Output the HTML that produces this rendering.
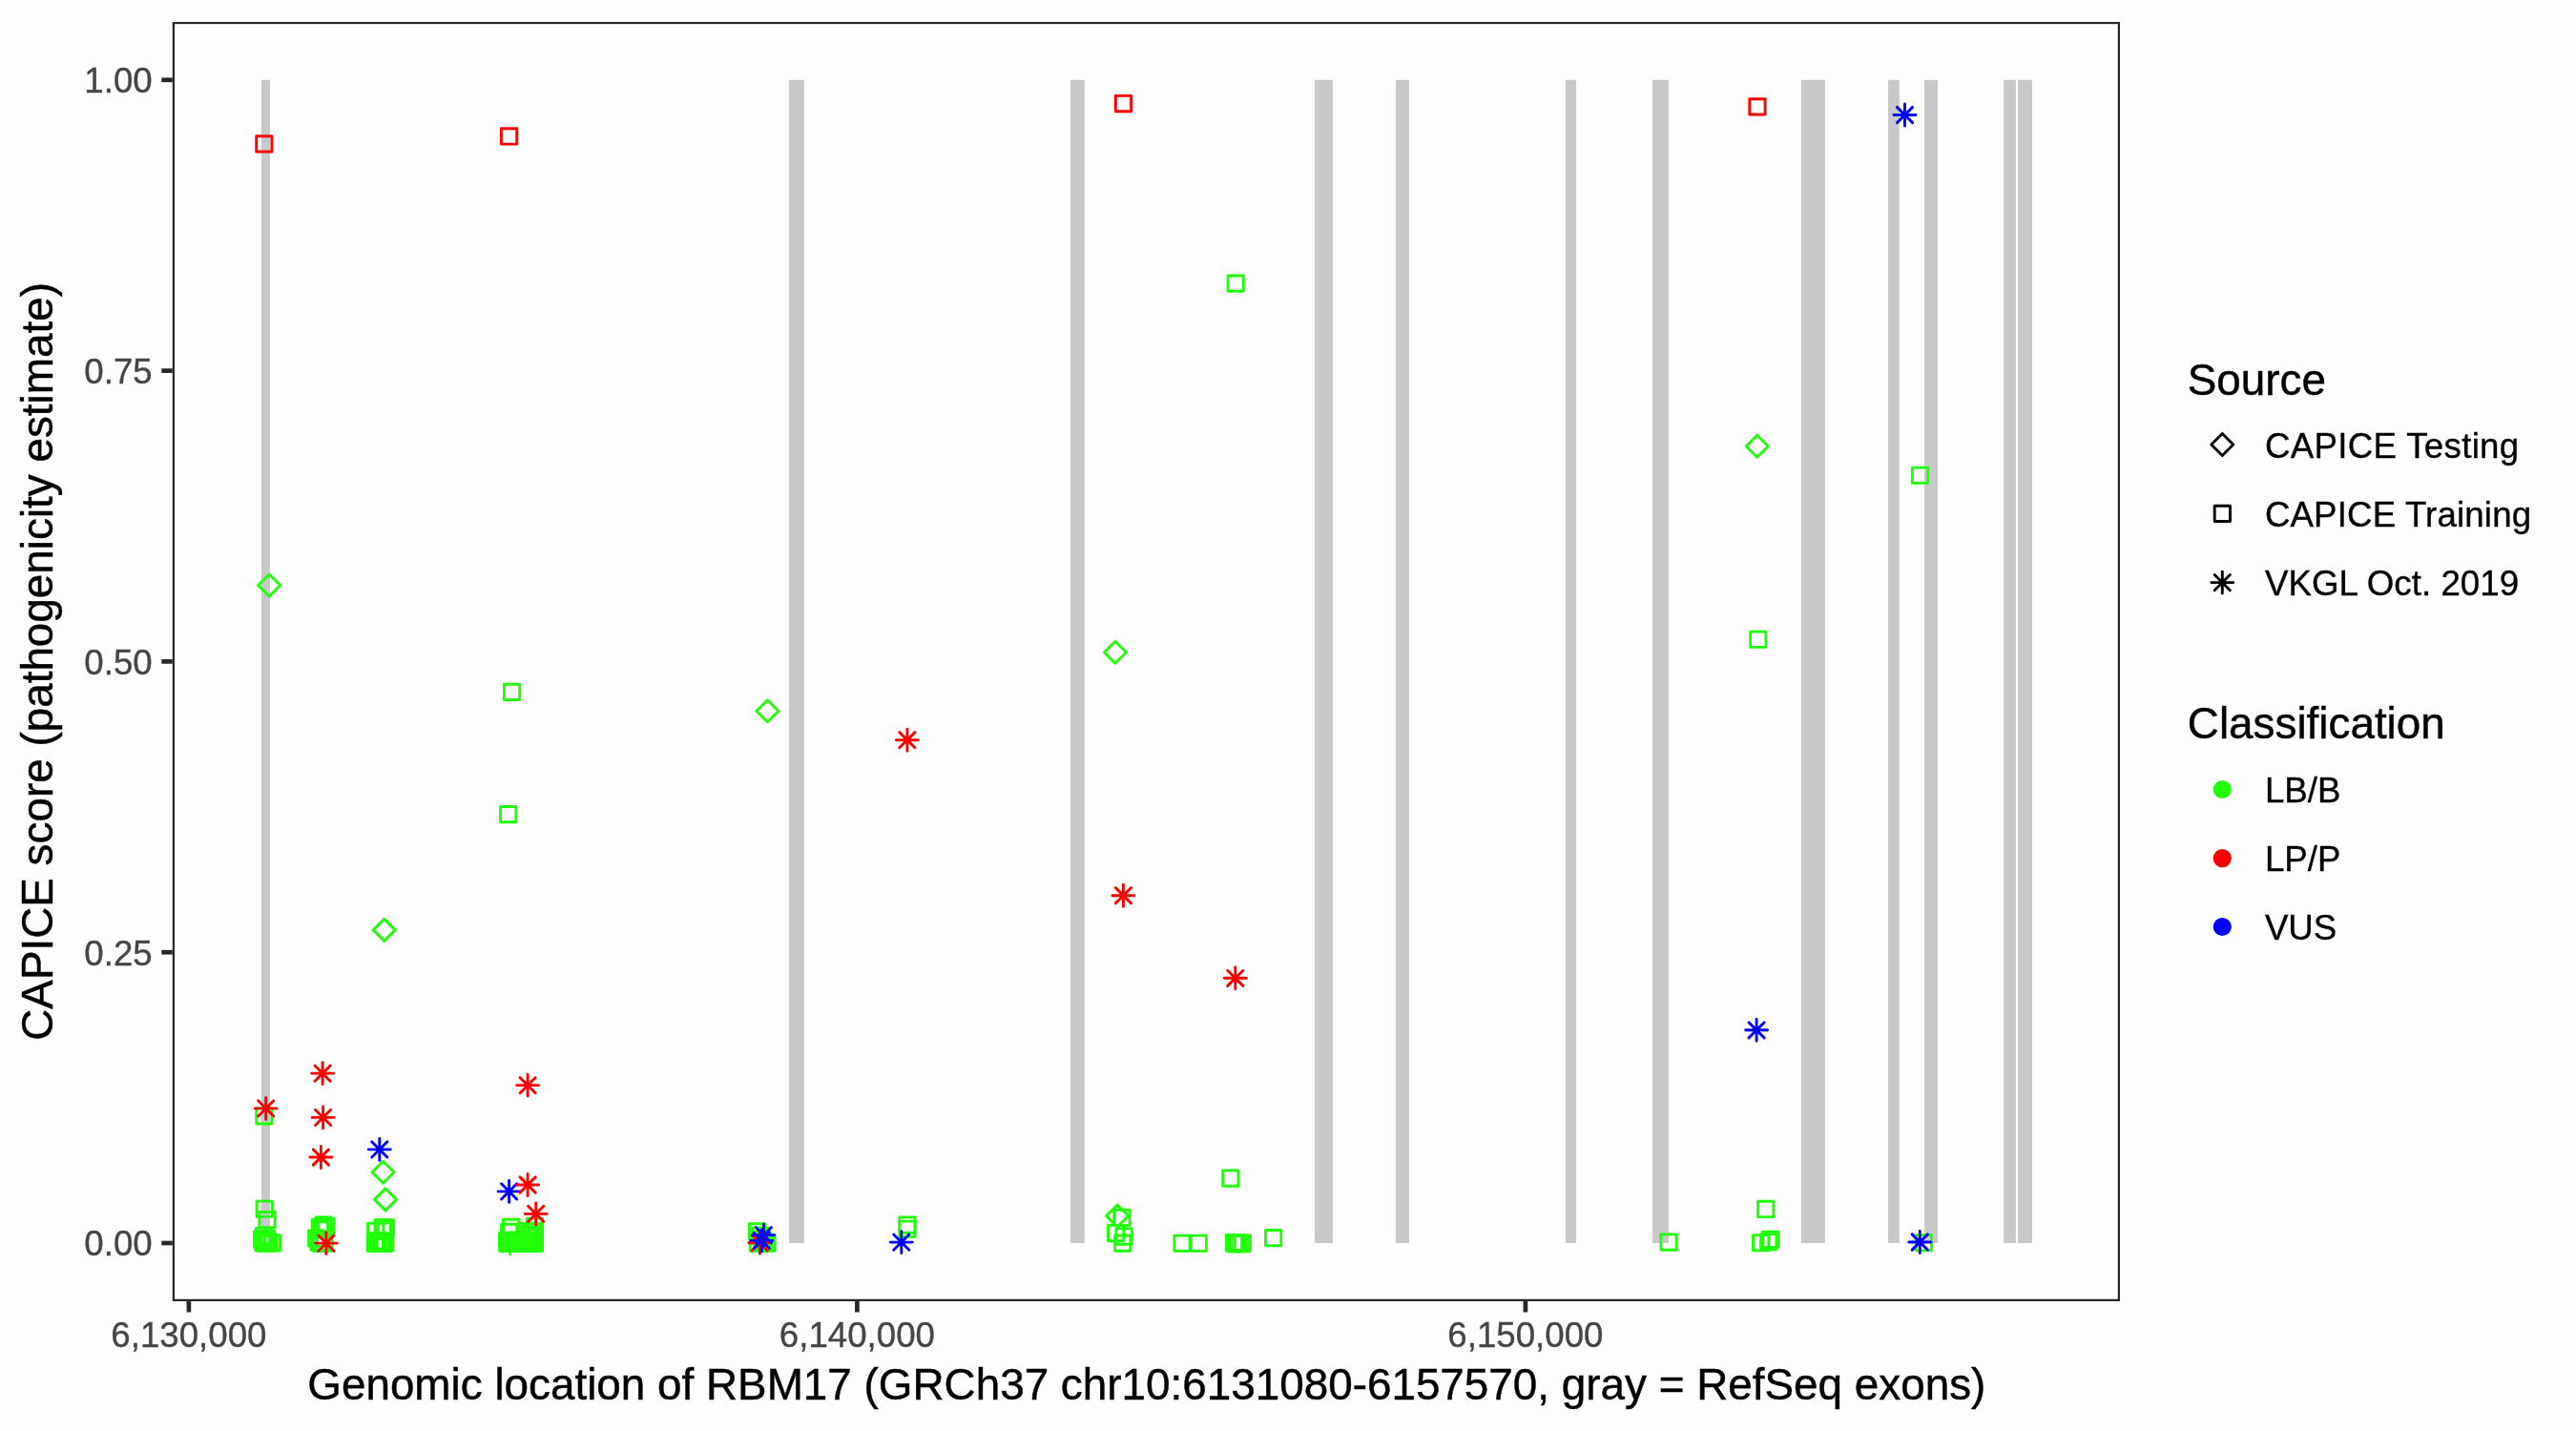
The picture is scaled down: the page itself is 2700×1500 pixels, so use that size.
<!DOCTYPE html>
<html lang="en"><head><meta charset="utf-8"><title>CAPICE score RBM17</title>
<style>html,body{margin:0;padding:0;background:#FDFDFD}svg{display:block;will-change:transform}text{font-family:"Liberation Sans",sans-serif}.t{font-size:36.67px;fill:#454545;stroke:#454545;stroke-width:.35px}.l{font-size:36.67px;fill:#000;stroke:#000;stroke-width:.35px}.h{font-size:45.83px;fill:#000;stroke:#000;stroke-width:.45px}.p{fill:none;stroke-width:2.9;stroke-linejoin:round;stroke-linecap:round}.g{stroke:#20FF08}.r{stroke:#FF0000}.b{stroke:#0000FF}</style></head><body>
<svg width="2700" height="1500" viewBox="0 0 2700 1500">
<rect width="2700" height="1500" fill="#FDFDFD"/>
<defs><clipPath id="pc"><rect x="180.8" y="22.9" width="2041.2" height="1341.1"/></clipPath></defs>
<g fill="#C8C8C8">
<rect x="274.0" y="83.8" width="9.0" height="1219.2"/>
<rect x="827.1" y="83.8" width="15.8" height="1219.2"/>
<rect x="1122.0" y="83.8" width="14.8" height="1219.2"/>
<rect x="1378.1" y="83.8" width="18.9" height="1219.2"/>
<rect x="1463.0" y="83.8" width="14.0" height="1219.2"/>
<rect x="1641.1" y="83.8" width="10.9" height="1219.2"/>
<rect x="1732.0" y="83.8" width="17.0" height="1219.2"/>
<rect x="1888.0" y="83.8" width="24.9" height="1219.2"/>
<rect x="1979.0" y="83.8" width="11.8" height="1219.2"/>
<rect x="2017.0" y="83.8" width="14.0" height="1219.2"/>
<rect x="2100.0" y="83.8" width="12.9" height="1219.2"/>
<rect x="2115.0" y="83.8" width="15.0" height="1219.2"/>
</g>
<g clip-path="url(#pc)">
<rect class="p r" x="268.7" y="142.7" width="16.29" height="16.29"/>
<rect class="p r" x="525.4" y="134.8" width="16.29" height="16.29"/>
<rect class="p r" x="1169.3" y="100.4" width="16.29" height="16.29"/>
<rect class="p r" x="1833.8" y="103.7" width="16.29" height="16.29"/>
<path class="p b" d="M1988.4 112.4L2004.6 128.6M1988.4 128.6L2004.6 112.4M1985.0 120.5L2008.0 120.5M1996.5 109.0L1996.5 132.0"/>
<path class="p g" d="M270.7 613.5L282.2 602.0L293.7 613.5L282.2 625.0Z"/>
<rect class="p g" x="528.4" y="717.2" width="16.29" height="16.29"/>
<path class="p g" d="M792.9 745.2L804.4 733.7L815.9 745.2L804.4 756.7Z"/>
<rect class="p g" x="524.6" y="845.5" width="16.29" height="16.29"/>
<path class="p g" d="M391.2 974.9L402.7 963.4L414.2 974.9L402.7 986.4Z"/>
<rect class="p g" x="1287.0" y="289.0" width="16.29" height="16.29"/>
<path class="p g" d="M1157.4 683.8L1168.9 672.3L1180.4 683.8L1168.9 695.3Z"/>
<path class="p r" d="M942.8 767.6L959.0 783.8M942.8 783.8L959.0 767.6M939.4 775.7L962.4 775.7M950.9 764.2L950.9 787.2"/>
<path class="p r" d="M1169.3 930.6L1185.5 946.8M1169.3 946.8L1185.5 930.6M1165.9 938.7L1188.9 938.7M1177.4 927.2L1177.4 950.2"/>
<path class="p r" d="M1286.7 1017.2L1302.9 1033.4M1286.7 1033.4L1302.9 1017.2M1283.3 1025.3L1306.3 1025.3M1294.8 1013.8L1294.8 1036.8"/>
<path class="p g" d="M1830.2 467.7L1841.7 456.2L1853.2 467.7L1841.7 479.2Z"/>
<rect class="p g" x="2004.4" y="490.1" width="16.29" height="16.29"/>
<rect class="p g" x="1834.6" y="662.1" width="16.29" height="16.29"/>
<path class="p b" d="M1833.0 1071.7L1849.2 1087.9M1833.0 1087.9L1849.2 1071.7M1829.6 1079.8L1852.6 1079.8M1841.1 1068.3L1841.1 1091.3"/>
<rect class="p g" x="268.7" y="1161.7" width="16.29" height="16.29"/>
<path class="p r" d="M270.6 1153.8L286.8 1170.0M270.6 1170.0L286.8 1153.8M267.2 1161.9L290.2 1161.9M278.7 1150.4L278.7 1173.4"/>
<path class="p r" d="M330.0 1117.0L346.2 1133.2M330.0 1133.2L346.2 1117.0M326.6 1125.1L349.6 1125.1M338.1 1113.6L338.1 1136.6"/>
<path class="p r" d="M330.5 1163.3L346.7 1179.5M330.5 1179.5L346.7 1163.3M327.1 1171.4L350.1 1171.4M338.6 1159.9L338.6 1182.9"/>
<path class="p r" d="M328.3 1204.9L344.5 1221.1M328.3 1221.1L344.5 1204.9M324.9 1213.0L347.9 1213.0M336.4 1201.5L336.4 1224.5"/>
<path class="p r" d="M545.0 1129.5L561.2 1145.7M545.0 1145.7L561.2 1129.5M541.6 1137.6L564.6 1137.6M553.1 1126.1L553.1 1149.1"/>
<path class="p b" d="M389.7 1196.8L405.9 1213.0M389.7 1213.0L405.9 1196.8M386.3 1204.9L409.3 1204.9M397.8 1193.4L397.8 1216.4"/>
<path class="p g" d="M390.0 1228.8L401.5 1217.3L413.0 1228.8L401.5 1240.3Z"/>
<path class="p g" d="M392.5 1257.4L404.0 1245.9L415.5 1257.4L404.0 1268.9Z"/>
<rect class="p g" x="269.1" y="1259.1" width="16.29" height="16.29"/>
<rect class="p g" x="271.9" y="1270.5" width="16.29" height="16.29"/>
<rect class="p g" x="268.4" y="1287.4" width="16.29" height="16.29"/>
<rect class="p g" x="266.4" y="1290.9" width="16.29" height="16.29"/>
<rect class="p g" x="270.0" y="1295.0" width="16.29" height="16.29"/>
<rect class="p g" x="273.4" y="1293.9" width="16.29" height="16.29"/>
<rect class="p g" x="277.3" y="1294.8" width="16.29" height="16.29"/>
<rect class="p g" x="267.9" y="1294.4" width="16.29" height="16.29"/>
<rect class="p g" x="271.4" y="1290.4" width="16.29" height="16.29"/>
<rect class="p g" x="268.9" y="1292.4" width="16.29" height="16.29"/>
<rect class="p g" x="330.9" y="1275.9" width="16.29" height="16.29"/>
<rect class="p g" x="327.3" y="1278.2" width="16.29" height="16.29"/>
<rect class="p g" x="333.6" y="1277.3" width="16.29" height="16.29"/>
<rect class="p g" x="329.4" y="1280.9" width="16.29" height="16.29"/>
<rect class="p g" x="323.6" y="1290.0" width="16.29" height="16.29"/>
<rect class="p g" x="325.9" y="1293.9" width="16.29" height="16.29"/>
<rect class="p g" x="328.2" y="1295.0" width="16.29" height="16.29"/>
<rect class="p g" x="331.9" y="1294.9" width="16.29" height="16.29"/>
<path class="p r" d="M333.8 1295.0L350.0 1311.2M333.8 1311.2L350.0 1295.0M330.4 1303.1L353.4 1303.1M341.9 1291.6L341.9 1314.6"/>
<rect class="p g" x="385.6" y="1282.3" width="16.29" height="16.29"/>
<rect class="p g" x="393.2" y="1278.7" width="16.29" height="16.29"/>
<rect class="p g" x="396.2" y="1278.7" width="16.29" height="16.29"/>
<rect class="p g" x="393.2" y="1281.7" width="16.29" height="16.29"/>
<rect class="p g" x="385.1" y="1294.9" width="16.29" height="16.29"/>
<rect class="p g" x="388.0" y="1294.9" width="16.29" height="16.29"/>
<rect class="p g" x="390.9" y="1294.9" width="16.29" height="16.29"/>
<rect class="p g" x="393.8" y="1294.9" width="16.29" height="16.29"/>
<rect class="p g" x="395.3" y="1294.9" width="16.29" height="16.29"/>
<rect class="p g" x="386.4" y="1292.8" width="16.29" height="16.29"/>
<rect class="p g" x="392.4" y="1292.8" width="16.29" height="16.29"/>
<rect class="p g" x="527.5" y="1278.2" width="16.29" height="16.29"/>
<rect class="p g" x="552.3" y="1277.1" width="16.29" height="16.29"/>
<rect class="p g" x="525.5" y="1283.2" width="16.29" height="16.29"/>
<rect class="p g" x="523.7" y="1294.9" width="16.29" height="16.29"/>
<rect class="p g" x="526.6" y="1294.9" width="16.29" height="16.29"/>
<rect class="p g" x="529.5" y="1294.9" width="16.29" height="16.29"/>
<rect class="p g" x="532.4" y="1294.9" width="16.29" height="16.29"/>
<rect class="p g" x="535.3" y="1294.9" width="16.29" height="16.29"/>
<rect class="p g" x="538.2" y="1294.9" width="16.29" height="16.29"/>
<rect class="p g" x="541.1" y="1294.9" width="16.29" height="16.29"/>
<rect class="p g" x="544.0" y="1294.9" width="16.29" height="16.29"/>
<rect class="p g" x="546.9" y="1294.9" width="16.29" height="16.29"/>
<rect class="p g" x="549.8" y="1294.9" width="16.29" height="16.29"/>
<rect class="p g" x="552.2" y="1294.9" width="16.29" height="16.29"/>
<rect class="p g" x="523.7" y="1292.3" width="16.29" height="16.29"/>
<rect class="p g" x="529.5" y="1292.3" width="16.29" height="16.29"/>
<rect class="p g" x="535.3" y="1292.3" width="16.29" height="16.29"/>
<rect class="p g" x="541.1" y="1292.3" width="16.29" height="16.29"/>
<rect class="p g" x="546.9" y="1292.3" width="16.29" height="16.29"/>
<rect class="p g" x="552.2" y="1292.3" width="16.29" height="16.29"/>
<rect class="p g" x="546.9" y="1282.3" width="16.29" height="16.29"/>
<rect class="p g" x="549.8" y="1282.9" width="16.29" height="16.29"/>
<rect class="p g" x="552.2" y="1282.3" width="16.29" height="16.29"/>
<rect class="p g" x="546.9" y="1285.9" width="16.29" height="16.29"/>
<rect class="p g" x="549.9" y="1287.9" width="16.29" height="16.29"/>
<rect class="p g" x="552.2" y="1288.9" width="16.29" height="16.29"/>
<path class="p g" d="M526.4 1295.4L542.6 1311.6M526.4 1311.6L542.6 1295.4M523.0 1303.5L546.0 1303.5M534.5 1292.0L534.5 1315.0"/>
<path class="p b" d="M525.5 1240.8L541.7 1257.0M525.5 1257.0L541.7 1240.8M522.1 1248.9L545.1 1248.9M533.6 1237.4L533.6 1260.4"/>
<path class="p r" d="M545.0 1233.9L561.2 1250.1M545.0 1250.1L561.2 1233.9M541.6 1242.0L564.6 1242.0M553.1 1230.5L553.1 1253.5"/>
<path class="p r" d="M553.6 1264.3L569.8 1280.5M553.6 1280.5L569.8 1264.3M550.2 1272.4L573.2 1272.4M561.7 1260.9L561.7 1283.9"/>
<rect class="p g" x="785.5" y="1282.7" width="16.29" height="16.29"/>
<rect class="p g" x="795.7" y="1295.0" width="16.29" height="16.29"/>
<rect class="p g" x="786.2" y="1295.0" width="16.29" height="16.29"/>
<rect class="p g" x="790.9" y="1290.9" width="16.29" height="16.29"/>
<rect class="p g" x="788.9" y="1286.9" width="16.29" height="16.29"/>
<rect class="p g" x="792.9" y="1293.9" width="16.29" height="16.29"/>
<path class="p r" d="M788.2 1294.7L804.4 1310.9M788.2 1310.9L804.4 1294.7M784.8 1302.8L807.8 1302.8M796.3 1291.3L796.3 1314.3"/>
<path class="p b" d="M790.2 1292.3L806.4 1308.5M790.2 1308.5L806.4 1292.3M786.8 1300.4L809.8 1300.4M798.3 1288.9L798.3 1311.9"/>
<path class="p b" d="M792.3 1286.5L808.5 1302.7M792.3 1302.7L808.5 1286.5M788.9 1294.6L811.9 1294.6M800.4 1283.1L800.4 1306.1"/>
<rect class="p g" x="942.8" y="1275.9" width="16.29" height="16.29"/>
<rect class="p g" x="942.8" y="1280.1" width="16.29" height="16.29"/>
<path class="p b" d="M936.7 1294.0L952.9 1310.2M936.7 1310.2L952.9 1294.0M933.3 1302.1L956.3 1302.1M944.8 1290.6L944.8 1313.6"/>
<path class="p g" d="M1159.6 1274.5L1171.1 1263.0L1182.6 1274.5L1171.1 1286.0Z"/>
<rect class="p g" x="1167.8" y="1268.3" width="16.29" height="16.29"/>
<rect class="p g" x="1161.5" y="1284.4" width="16.29" height="16.29"/>
<rect class="p g" x="1170.0" y="1287.9" width="16.29" height="16.29"/>
<rect class="p g" x="1168.6" y="1295.0" width="16.29" height="16.29"/>
<rect class="p g" x="1230.9" y="1295.1" width="16.29" height="16.29"/>
<rect class="p g" x="1248.2" y="1295.1" width="16.29" height="16.29"/>
<rect class="p g" x="1281.7" y="1226.9" width="16.29" height="16.29"/>
<rect class="p g" x="1285.4" y="1294.4" width="16.29" height="16.29"/>
<rect class="p g" x="1286.9" y="1295.4" width="16.29" height="16.29"/>
<rect class="p g" x="1288.4" y="1294.4" width="16.29" height="16.29"/>
<rect class="p g" x="1291.1" y="1295.4" width="16.29" height="16.29"/>
<rect class="p g" x="1294.2" y="1294.9" width="16.29" height="16.29"/>
<rect class="p g" x="1326.5" y="1289.5" width="16.29" height="16.29"/>
<rect class="p g" x="1740.9" y="1293.9" width="16.29" height="16.29"/>
<rect class="p g" x="1842.6" y="1259.3" width="16.29" height="16.29"/>
<rect class="p g" x="1837.5" y="1294.6" width="16.29" height="16.29"/>
<rect class="p g" x="1847.6" y="1291.2" width="16.29" height="16.29"/>
<rect class="p g" x="1845.6" y="1293.6" width="16.29" height="16.29"/>
<rect class="p g" x="2008.2" y="1294.6" width="16.29" height="16.29"/>
<path class="p b" d="M2004.2 1293.9L2020.4 1310.1M2004.2 1310.1L2020.4 1293.9M2000.8 1302.0L2023.8 1302.0M2012.3 1290.5L2012.3 1313.5"/>
</g>
<rect x="180.80" y="22.90" width="2041.20" height="1341.10" fill="none" stroke="#282828" stroke-width="4.5" clip-path="url(#pc)"/>
<g stroke="#282828" stroke-width="4.7">
<line x1="169.34" y1="1303.00" x2="180.80" y2="1303.00"/>
<line x1="169.34" y1="998.20" x2="180.80" y2="998.20"/>
<line x1="169.34" y1="693.40" x2="180.80" y2="693.40"/>
<line x1="169.34" y1="388.60" x2="180.80" y2="388.60"/>
<line x1="169.34" y1="83.80" x2="180.80" y2="83.80"/>
<line x1="197.90" y1="1364.00" x2="197.90" y2="1375.46"/>
<line x1="898.40" y1="1364.00" x2="898.40" y2="1375.46"/>
<line x1="1598.90" y1="1364.00" x2="1598.90" y2="1375.46"/>
</g>
<text class="t" text-anchor="end" x="159.7" y="1316.3">0.00</text>
<text class="t" text-anchor="end" x="159.7" y="1011.5">0.25</text>
<text class="t" text-anchor="end" x="159.7" y="706.7">0.50</text>
<text class="t" text-anchor="end" x="159.7" y="401.9">0.75</text>
<text class="t" text-anchor="end" x="159.7" y="97.1">1.00</text>
<text class="t" text-anchor="middle" x="197.9" y="1412.0">6,130,000</text>
<text class="t" text-anchor="middle" x="898.4" y="1412.0">6,140,000</text>
<text class="t" text-anchor="middle" x="1598.9" y="1412.0">6,150,000</text>
<text class="h" text-anchor="middle" x="1201.8" y="1467.4">Genomic location of RBM17 (GRCh37 chr10:6131080-6157570, gray = RefSeq exons)</text>
<text class="h" text-anchor="middle" transform="translate(55.2 693.4) rotate(-90)">CAPICE score (pathogenicity estimate)</text>
<text class="h" x="2292.8" y="413.5">Source</text>
<g class="p" stroke="#000000">
<path  d="M2317.8 466.0L2329.3 454.5L2340.8 466.0L2329.3 477.5Z"/>
<rect  x="2321.2" y="530.2" width="16.29" height="16.29"/>
<path  d="M2321.2 602.5L2337.4 618.7M2321.2 618.7L2337.4 602.5M2317.8 610.6L2340.8 610.6M2329.3 599.1L2329.3 622.1"/>
</g>
<text class="l" x="2373.9" y="480.0" letter-spacing="0.32">CAPICE Testing</text>
<text class="l" x="2373.9" y="552.0" letter-spacing="0.15">CAPICE Training</text>
<text class="l" x="2373.9" y="623.8" letter-spacing="0.05">VKGL Oct. 2019</text>
<text class="h" x="2292.8" y="774.4">Classification</text>
<circle cx="2329.3" cy="827.5" r="8.14" fill="#20FF08" stroke="#20FF08" stroke-width="2.9"/>
<text class="l" x="2373.9" y="840.9">LB/B</text>
<circle cx="2329.3" cy="899.6" r="8.14" fill="#FF0000" stroke="#FF0000" stroke-width="2.9"/>
<text class="l" x="2373.9" y="913.0">LP/P</text>
<circle cx="2329.3" cy="971.5" r="8.14" fill="#0000FF" stroke="#0000FF" stroke-width="2.9"/>
<text class="l" x="2373.9" y="984.9">VUS</text>
</svg></body></html>
